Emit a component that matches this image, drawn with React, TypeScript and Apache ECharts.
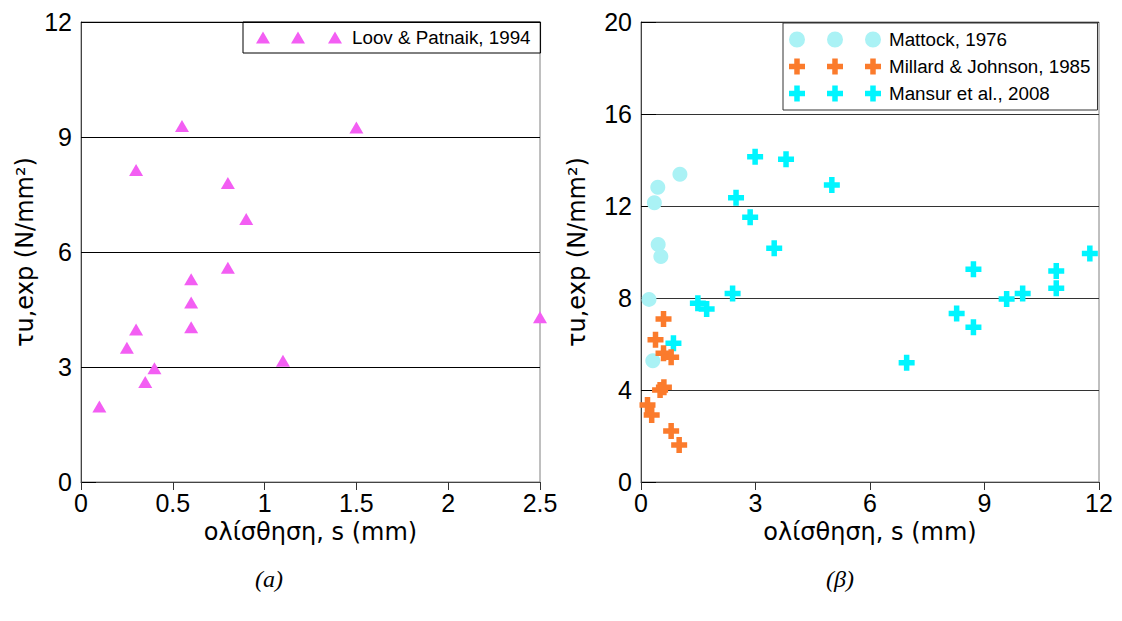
import React, { useEffect, useRef } from "react";
import * as echarts from "echarts";

// ---- Data ----
const loovPatnaik: [number, number][] = [
  [0.1, 1.97], [0.25, 3.5], [0.3, 3.98], [0.35, 2.61], [0.4, 2.97],
  [0.3, 8.14], [0.55, 9.29], [0.6, 5.29], [0.6, 4.68], [0.6, 4.04],
  [0.8, 7.8], [0.8, 5.59], [0.9, 6.86], [1.1, 3.16], [1.5, 9.25], [2.5, 4.3],
];
const mattock: [number, number][] = [
  [1.02, 13.38], [0.44, 12.81], [0.35, 12.14], [0.45, 10.33], [0.52, 9.8],
  [0.21, 7.94], [0.31, 5.27],
];
const millardJohnson: [number, number][] = [
  [0.59, 7.09], [0.38, 6.18], [0.59, 5.6], [0.79, 5.42], [0.5, 4.0],
  [0.6, 4.12], [0.17, 3.35], [0.28, 2.91], [0.79, 2.22], [1.0, 1.61],
];
const mansur: [number, number][] = [
  [2.99, 14.14], [3.8, 14.03], [5.0, 12.91], [2.49, 12.36], [2.86, 11.51],
  [3.49, 10.16], [2.4, 8.2], [1.49, 7.77], [1.72, 7.52], [0.85, 6.03],
  [6.96, 5.19], [8.27, 7.33], [8.71, 6.73], [8.71, 9.25], [9.58, 7.96],
  [10.0, 8.2], [10.88, 9.17], [10.88, 8.42], [11.76, 9.94],
];
const leftXTicks = ["0", "0.5", "1", "1.5", "2", "2.5"];
const seriesNames = [
  "Loov & Patnaik, 1994",
  "Mattock, 1976",
  "Millard & Johnson, 1985",
  "Mansur et al., 2008",
];
const xTitle = "ολίσθηση, s (mm)";
const yTitle = "τu,exp (N/mm²)";
const captions = ["(a)", "(β)"];

const crossAt = (o: number) =>
  `M${o + 5.25},0H${o + 10.75}V5.25H${o + 16}V10.75H${o + 10.75}V16H${o + 5.25}V10.75H${o}V5.25H${o + 5.25}Z`;
const crossPath = "path://" + crossAt(0);
const crossLegend = "path://" + [0, 38, 76].map(crossAt).join("");
const circleAt = (o: number) => `M${o},8A8,8 0 1,1 ${o + 16},8A8,8 0 1,1 ${o},8Z`;
const circleLegend = "path://" + [0, 38, 76].map(circleAt).join("");
const triLegend = "path://M0,12L7,0L14,12Z M35,12L42,0L49,12Z M72,12L79,0L86,12Z";

const TICK_FONT = "'Liberation Sans Narrow', 'Liberation Sans', Arial, sans-serif";
const TITLE_FONT = "'DejaVu Sans', Verdana, sans-serif";
const LEG_FONT = "'Liberation Sans', Arial, sans-serif";

export default function App() {
  const ref = useRef<HTMLDivElement>(null);
  useEffect(() => {
    if (!ref.current) return;
    const chart = echarts.init(ref.current, undefined, { renderer: "svg" });

    const yAxisCommon = (gridIndex: number, max: number, interval: number, gridColor: string) => ({
      type: "value",
      gridIndex,
      min: 0,
      max,
      interval,
      name: yTitle,
      nameLocation: "middle",
      nameGap: gridIndex === 0 ? 44 : 52,
      nameTextStyle: { fontFamily: TITLE_FONT, fontSize: 24, color: "#000" },
      axisLine: { show: true, lineStyle: { color: "#444", width: 1 } },
      axisTick: { show: true, inside: true, length: 15, lineStyle: { color: "#000" } },
      axisLabel: { fontFamily: TICK_FONT, fontSize: 25, color: "#000", margin: 9 },
      splitLine: { show: true, lineStyle: { color: gridColor, width: 1 } },
    });
    const xAxisCommon = (gridIndex: number, max: number, interval: number, fmt?: (v: number) => string) => ({
      type: "value",
      gridIndex,
      min: 0,
      max,
      interval,
      name: xTitle,
      nameLocation: "middle",
      nameGap: 27,
      nameTextStyle: { fontFamily: TITLE_FONT, fontSize: 24, color: "#000" },
      axisLine: { show: true, onZero: false, lineStyle: { color: "#444", width: 1 } },
      axisTick: { show: true, inside: false, length: 8, lineStyle: { color: "#333" } },
      axisLabel: { fontFamily: TICK_FONT, fontSize: 25, color: "#000", margin: 8, formatter: fmt },
      splitLine: { show: false },
    });

    chart.setOption({
      animation: false,
      backgroundColor: "#fff",
      grid: [
        { left: 81, right: 582, top: 22, bottom: 139, show: true, borderColor: "#808080", borderWidth: 1 },
        { left: 641, right: 23, top: 22, bottom: 139, show: true, borderColor: "#808080", borderWidth: 1 },
      ],
      xAxis: [
        xAxisCommon(0, 2.5, 0.5, (v: number) => leftXTicks[Math.round(v / 0.5)] ?? String(v)),
        xAxisCommon(1, 12, 3),
      ],
      yAxis: [yAxisCommon(0, 12, 3, "#000"), yAxisCommon(1, 20, 4, "#333")],
      legend: [
        {
          left: 243,
          top: 22,
          orient: "vertical",
          padding: [6, 10, 6, 13],
          borderColor: "#000",
          borderWidth: 1,
          itemWidth: 86,
          itemHeight: 12,
          textStyle: { fontFamily: LEG_FONT, fontSize: 18.8, color: "#000", padding: [0, 0, 0, 5] },
          data: [{ name: seriesNames[0], icon: triLegend }],
        },
        {
          left: 783,
          top: 23,
          orient: "vertical",
          padding: [7, 7, 7, 6],
          itemGap: 8,
          borderColor: "#333",
          borderWidth: 1,
          itemWidth: 92,
          itemHeight: 16,
          textStyle: { fontFamily: LEG_FONT, fontSize: 18.8, color: "#000", padding: [0, 0, 0, 3] },
          data: [
            { name: seriesNames[1], icon: circleLegend },
            { name: seriesNames[2], icon: crossLegend },
            { name: seriesNames[3], icon: crossLegend },
          ],
        },
      ],
      graphic: [
        {
          type: "text",
          left: 255,
          top: 567,
          style: { text: captions[0], fontFamily: "'Liberation Serif', serif", fontStyle: "italic", fontSize: 24, fill: "#000" },
        },
        {
          type: "text",
          left: 826,
          top: 567,
          style: { text: captions[1], fontFamily: "'Liberation Serif', serif", fontStyle: "italic", fontSize: 24, fill: "#000" },
        },
      ],
      series: [
        {
          name: seriesNames[0],
          type: "scatter",
          xAxisIndex: 0,
          yAxisIndex: 0,
          symbol: "triangle",
          symbolSize: [14, 12],
          itemStyle: { color: "#f35ef3", opacity: 1 },
          data: loovPatnaik,
        },
        {
          name: seriesNames[1],
          type: "scatter",
          xAxisIndex: 1,
          yAxisIndex: 1,
          symbol: "circle",
          symbolSize: 15,
          itemStyle: { color: "#aaf2f5", opacity: 1 },
          data: mattock,
        },
        {
          name: seriesNames[3],
          type: "scatter",
          xAxisIndex: 1,
          yAxisIndex: 1,
          symbol: crossPath,
          symbolSize: 16,
          itemStyle: { color: "#00f5ff", opacity: 1 },
          data: mansur,
        },
        {
          name: seriesNames[2],
          type: "scatter",
          xAxisIndex: 1,
          yAxisIndex: 1,
          symbol: crossPath,
          symbolSize: 16,
          itemStyle: { color: "#fb7b2c", opacity: 1 },
          data: millardJohnson,
        },
      ],
    });
    return () => chart.dispose();
  }, []);
  return (
    <div
      ref={ref}
      style={{ position: "fixed", left: 0, top: 0, width: 1122, height: 621, background: "#fff" }}
    />
  );
}
